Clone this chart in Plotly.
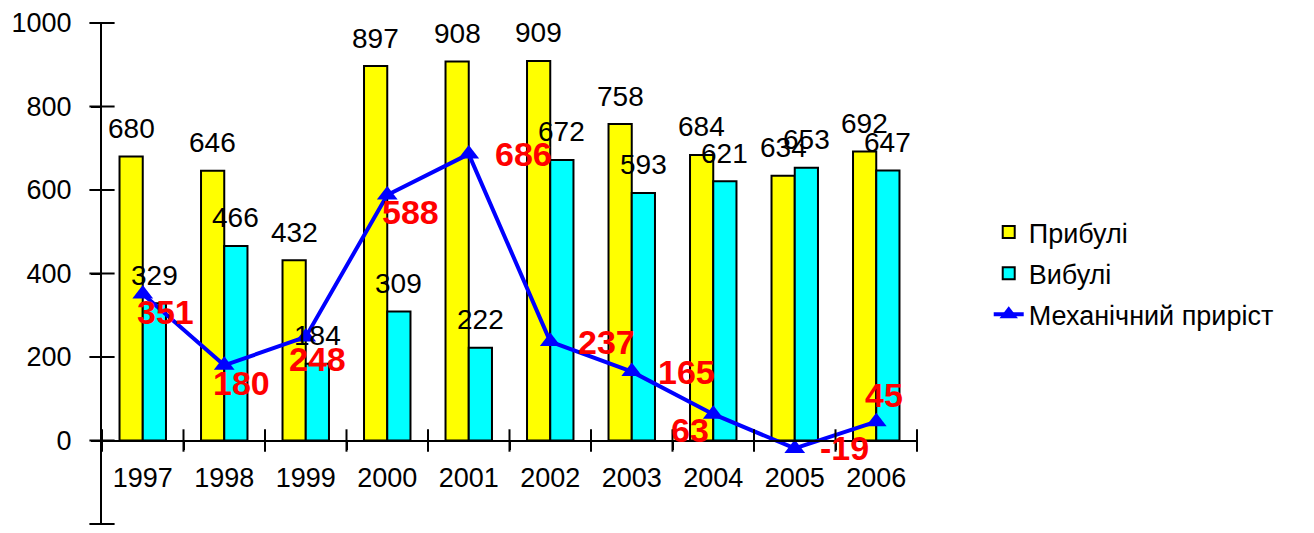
import plotly.graph_objects as go

# ── Data ──────────────────────────────────────────────────────────────────────
years = ["1997", "1998", "1999", "2000", "2001", "2002", "2003", "2004", "2005", "2006"]
arrived = [680, 646, 432, 897, 908, 909, 758, 684, 634, 692]    # Прибулі
departed = [329, 466, 184, 309, 222, 672, 593, 621, 653, 647]   # Вибулі
net_gain = [351, 180, 248, 588, 686, 237, 165, 63, -19, 45]     # Механічний приріст
y_ticks = [-200, 0, 200, 400, 600, 800, 1000]

# label offsets (px) for the red net labels, as placed in the original
net_dx = [23, 17, 12, 23, 55, 56, 55, -23, 50, 8]
net_dy = [-18, -18, -22, -17, 0, 0, 0, -16, 0, 27]

FONT = "Liberation Sans"
zero_pos = 200 / 1200  # y=0 in paper coords for range [-200, 1000]
n = len(years)

fig = go.Figure()

fig.add_trace(go.Bar(
    x=years, y=arrived, name="Прибулі",
    marker=dict(color="#FFFF00", line=dict(color="#000000", width=2)),
    legendgroup="a",
))
fig.add_trace(go.Bar(
    x=years, y=departed, name="Вибулі",
    marker=dict(color="#00FFFF", line=dict(color="#000000", width=2)),
    legendgroup="b",
))
fig.add_trace(go.Scatter(
    x=years, y=net_gain, name="Механічний приріст",
    mode="lines+markers",
    line=dict(color="#0000FF", width=4),
    marker=dict(symbol="triangle-up", size=18, color="#0000FF"),
    legendgroup="c",
))

# Excel-style cross tick marks, drawn on a hidden linear copy of the x axis
boundaries = [i - 0.5 for i in range(n + 1)]
fig.add_trace(go.Scatter(
    x=boundaries, y=[0] * len(boundaries), xaxis="x2",
    mode="markers", cliponaxis=False, hoverinfo="skip", showlegend=False,
    marker=dict(symbol="line-ns", size=16, line=dict(color="#000000", width=2)),
))
fig.add_trace(go.Scatter(
    x=[-0.5] * len(y_ticks), y=y_ticks, xaxis="x2",
    mode="markers", cliponaxis=False, hoverinfo="skip", showlegend=False,
    marker=dict(symbol="line-ew", size=18, line=dict(color="#000000", width=2)),
))

# ── Labels (x given as category index) ────────────────────────────────────────
for i, v in enumerate(arrived):
    fig.add_annotation(x=i, y=v, text=str(v), showarrow=False,
                       xshift=-11.6, yshift=28,
                       font=dict(family=FONT, size=28, color="#000000"))
for i, v in enumerate(departed):
    fig.add_annotation(x=i, y=v, text=str(v), showarrow=False,
                       xshift=11.6, yshift=28,
                       font=dict(family=FONT, size=28, color="#000000"))
for i, (v, dx, dy) in enumerate(zip(net_gain, net_dx, net_dy)):
    fig.add_annotation(x=i, y=v, text=f"<b>{v}</b>", showarrow=False,
                       xshift=dx, yshift=dy,
                       font=dict(family=FONT, size=34, color="#FF0000"))

# ── Layout ────────────────────────────────────────────────────────────────────
# page body has an 8px margin, so the figure is 16px smaller than the window
fig.update_layout(
    width=1298, height=517,
    margin=dict(l=94, r=389, t=15, b=1),
    paper_bgcolor="#FFFFFF",
    plot_bgcolor="#FFFFFF",
    font=dict(family=FONT, size=27, color="#000000"),
    barmode="group",
    bargap=0.43,
    bargroupgap=0,
    showlegend=True,
    legend=dict(
        x=1.088, y=0.5, xanchor="left", yanchor="middle",
        font=dict(family=FONT, size=27),
        traceorder="grouped", tracegroupgap=3,
        bgcolor="rgba(0,0,0,0)",
    ),
    xaxis=dict(
        type="category", categoryorder="array", categoryarray=years,
        range=[-0.5, n - 0.5],
        anchor="free", position=zero_pos,
        showline=True, linecolor="#000000", linewidth=2,
        ticks="outside", ticklen=8, tickwidth=2, tickcolor="#000000",
        tickson="boundaries",
        ticklabelstandoff=13,
        tickfont=dict(family=FONT, size=27),
        showgrid=False, zeroline=False,
    ),
    xaxis2=dict(
        type="linear", range=[-0.5, n - 0.5],
        overlaying="x", visible=False,
    ),
    yaxis=dict(
        range=[-200, 1000], tickvals=y_ticks,
        showline=True, linecolor="#000000", linewidth=2,
        ticks="outside", ticklen=9, tickwidth=2, tickcolor="#000000",
        ticklabelstandoff=14,
        tickfont=dict(family=FONT, size=27),
        showgrid=False, zeroline=False,
    ),
)

fig.write_html("out.html")
